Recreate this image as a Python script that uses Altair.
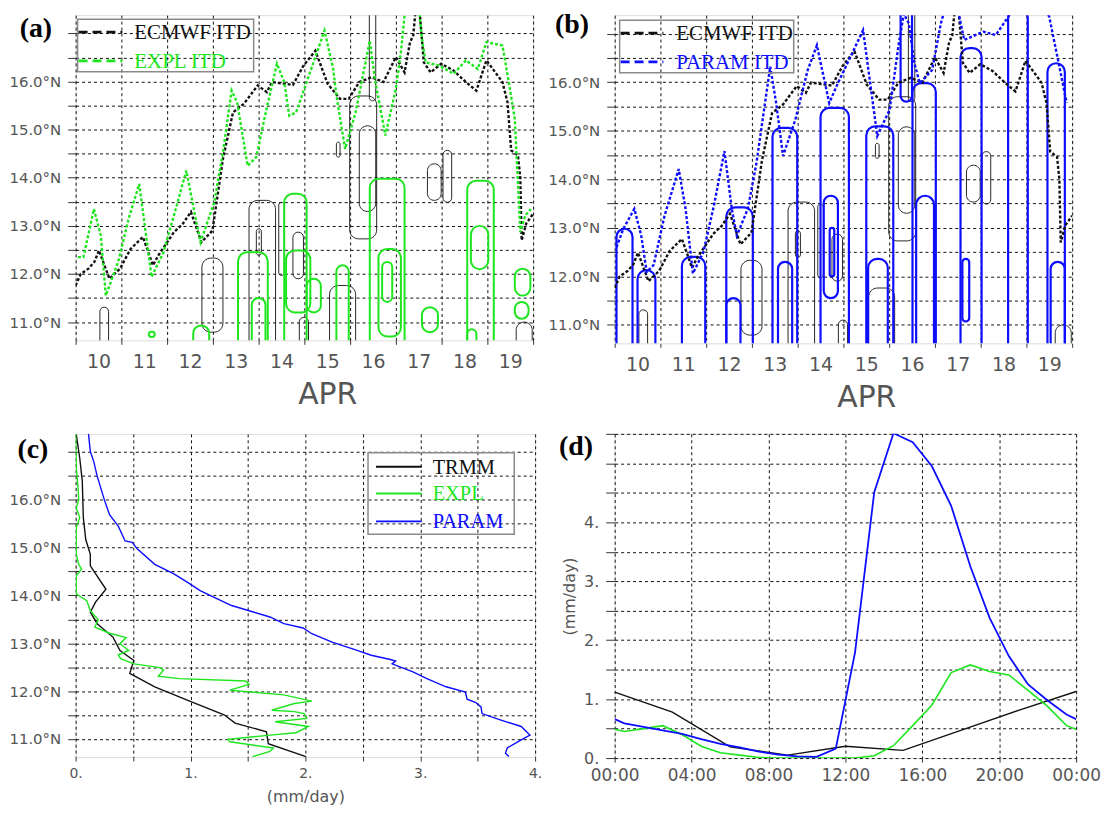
import altair as alt
import pandas as pd

FONT = "DejaVu Sans"
SERIF = "Liberation Serif"
TXT = "#555555"
FRAME = "#8a8a8a"
GRID = "#111111"
GREEN = "#1ee61e"
BLUE = "#0d0dff"
BLACK = "#111111"
LAT_DOMAIN = [10.62, 17.38]

# ---------------- panels (a)/(b): days since 10 APR 00Z, latitude ----------------
ecmwf_day = [0.00, 0.11, 0.28, 0.41, 0.51, 0.63, 0.74, 0.97, 1.20, 1.47, 1.69, 1.81, 2.15, 2.34,
             2.52, 2.75, 2.99, 3.22, 3.44, 3.68, 3.98, 4.18, 4.29, 4.75, 4.98, 5.24, 5.51, 5.78,
             5.97, 6.20, 6.47, 6.73, 7.00, 7.19, 7.31, 7.38, 7.42, 7.48, 7.53, 7.61, 7.76, 7.99,
             8.26, 8.53, 8.76, 8.98, 9.33, 9.44, 9.52, 9.67, 9.72, 9.75, 9.85, 10.0]
ecmwf_lat = [11.76, 12.00, 12.11, 12.25, 12.49, 12.18, 11.90, 12.11, 12.52, 12.77, 12.18, 12.39,
             12.87, 13.04, 13.29, 12.66, 12.90, 14.39, 15.36, 15.54, 15.92, 15.78, 15.99, 15.93,
             16.33, 16.64, 15.95, 15.64, 15.64, 15.99, 16.09, 15.99, 16.51, 16.19, 16.82, 16.96,
             17.37, 17.55, 17.34, 16.40, 16.19, 16.37, 16.23, 15.99, 15.81, 16.44, 15.99, 15.57,
             14.57, 14.46, 14.00, 12.70, 13.05, 13.25]

expl_itd_day = [0.05, 0.17, 0.40, 0.55, 0.66, 0.93, 1.16, 1.39, 1.54, 1.66, 1.92, 2.15, 2.42, 2.61,
                2.73, 3.03, 3.22, 3.41, 3.53, 3.76, 3.95, 4.14, 4.40, 4.56, 4.67, 4.82, 5.05, 5.44,
                5.63, 5.70, 5.89, 6.12, 6.43, 6.54, 6.77, 7.00, 7.11, 7.19, 7.27, 7.50, 7.56, 7.65,
                7.95, 8.26, 8.53, 8.79, 8.98, 9.33, 9.48, 9.60, 9.72, 9.83, 9.95]
expl_itd_lat = [12.35, 12.35, 13.35, 12.80, 11.55, 12.25, 13.15, 13.87, 12.80, 11.94, 12.45, 13.22,
                14.15, 13.22, 12.66, 13.49, 14.53, 15.81, 15.57, 14.25, 14.43, 15.29, 16.37, 15.99,
                15.29, 15.36, 15.99, 17.06, 16.26, 15.71, 14.60, 15.36, 16.85, 16.06, 14.88, 15.85,
                16.61, 17.37, 17.60, 17.60, 16.96, 16.40, 16.33, 16.16, 16.44, 16.26, 16.82, 16.75,
                15.92, 15.22, 12.87, 13.22, 13.35]

param_itd_day = [0.04, 0.19, 0.43, 0.58, 0.70, 0.85, 1.09, 1.40, 1.55, 1.71, 1.94, 2.17, 2.40, 2.56,
                 2.67, 2.91, 3.10, 3.40, 3.53, 3.68, 3.95, 4.22, 4.42, 4.69, 4.88, 5.19, 5.43, 5.74,
                 6.01, 6.20, 6.32, 6.43, 6.55, 6.67, 6.94, 7.13, 7.21, 7.30, 7.45, 7.52, 7.64, 8.06,
                 8.33, 8.60, 8.76, 9.38, 9.50, 9.69, 9.88]
param_itd_lat = [12.60, 12.98, 13.39, 12.84, 12.09, 12.23, 13.25, 14.21, 13.39, 12.06, 12.50, 13.46,
                 14.58, 13.39, 12.84, 13.39, 14.34, 16.32, 15.57, 14.48, 15.23, 16.25, 16.76, 15.57,
                 15.98, 16.59, 17.07, 14.89, 15.43, 16.73, 17.41, 17.21, 16.39, 15.98, 16.25, 17.21,
                 17.48, 17.60, 17.60, 17.41, 16.87, 17.04, 16.97, 17.34, 17.60, 17.60, 17.34, 16.46,
                 15.57]

# rain contour loops: start day, end day, south lat, north lat
trmm_d0 = [0.53, 2.76, 3.79, 3.95, 4.44, 4.75, 4.89, 5.55, 5.99, 6.20, 6.42, 7.69, 8.03, 9.63, 5.70]
trmm_d1 = [0.72, 3.22, 4.37, 4.06, 4.56, 4.98, 5.09, 6.12, 6.58, 6.56, 6.56, 7.99, 8.22, 9.98, 5.78]
trmm_s = [10.40, 10.79, 10.40, 12.39, 11.97, 11.90, 10.40, 10.40, 12.73, 13.30, 15.60, 13.53, 13.49, 10.40, 14.43]
trmm_n = [11.31, 12.33, 13.53, 12.94, 13.49, 12.87, 11.10, 11.76, 15.70, 15.08, 17.50, 14.29, 14.57, 11.00, 14.74]

expl_d0 = [3.55, 3.85, 4.56, 4.60, 5.05, 5.70, 6.43, 6.62, 6.70, 7.57, 8.56, 8.64, 9.60, 9.60, 1.60, 2.57, 8.56]
expl_d1 = [4.20, 4.15, 5.05, 5.13, 5.36, 5.97, 7.19, 7.11, 6.92, 7.92, 9.14, 9.02, 9.94, 9.90, 1.73, 2.92, 8.76]
expl_s = [10.40, 10.40, 10.40, 11.20, 11.20, 10.40, 10.40, 10.70, 11.42, 10.79, 10.40, 12.10, 11.55, 11.07, 10.69, 10.40, 10.40]
expl_n = [12.45, 11.50, 13.67, 12.49, 11.90, 12.18, 13.98, 12.52, 12.25, 11.31, 13.94, 13.00, 12.11, 11.42, 10.80, 10.93, 10.85]

param_d0 = [0.04, 0.50, 1.47, 2.44, 2.44, 3.45, 3.57, 4.50, 4.57, 4.70, 5.50, 5.54, 6.51, 6.59, 7.56, 7.60, 8.60, 9.46, 9.53, 6.25]
param_d1 = [0.39, 0.89, 1.98, 3.02, 2.75, 3.99, 3.88, 5.12, 4.88, 4.80, 6.09, 5.97, 7.02, 6.98, 8.02, 7.75, 9.03, 9.84, 9.84, 6.50]
param_s = [10.40, 10.40, 10.40, 10.40, 10.40, 10.40, 10.40, 10.40, 11.55, 12.00, 10.40, 10.40, 10.40, 10.40, 10.40, 11.07, 10.40, 10.40, 10.40, 15.60]
param_n = [12.98, 12.13, 12.40, 13.42, 11.55, 15.06, 12.30, 15.47, 13.66, 13.00, 15.09, 12.36, 15.98, 13.66, 16.70, 12.36, 17.50, 16.39, 12.30, 17.50]

# ---------------- panel (c): zonal-mean rain (mm/day) vs latitude ----------------
trmm_c_val = [0.006, 0.036, 0.058, 0.067, 0.088, 0.128, 0.128, 0.264, 0.173, 0.128, 0.188, 0.325,
              0.386, 0.507, 0.471, 0.689, 0.993, 1.297, 1.388, 1.661, 1.677, 2.005]
trmm_c_lat = [17.36, 16.87, 16.39, 15.63, 15.17, 14.86, 14.62, 14.13, 13.86, 13.65, 13.41, 13.13,
              12.85, 12.64, 12.37, 12.09, 11.79, 11.50, 11.33, 11.15, 10.90, 10.63]

expl_c_val = [0.000, 0.006, 0.021, 0.027, 0.006, 0.036, 0.006, 0.006, 0.027, 0.052, 0.006, 0.006,
              0.097, 0.128, 0.197, 0.167, 0.295, 0.440, 0.386, 0.462, 0.371, 0.392, 0.507, 0.735,
              0.765, 0.720, 0.902, 1.479, 1.510, 1.342, 1.813, 2.056, 1.904, 1.707, 1.904, 1.989,
              2.011, 1.737, 2.026, 1.920, 1.692, 1.327, 1.342, 1.722, 1.692, 1.540]
expl_c_lat = [17.38, 16.67, 16.25, 16.00, 15.83, 15.63, 15.42, 14.86, 14.65, 14.55, 14.41, 14.03,
              13.89, 13.68, 13.49, 13.34, 13.21, 13.12, 12.99, 12.85, 12.76, 12.68, 12.57, 12.49,
              12.44, 12.31, 12.26, 12.21, 12.14, 12.02, 11.92, 11.79, 11.74, 11.60, 11.57, 11.53,
              11.43, 11.36, 11.26, 11.13, 11.08, 10.99, 10.94, 10.81, 10.74, 10.63]

param_c_val = [0.112, 0.128, 0.158, 0.188, 0.249, 0.295, 0.371, 0.431, 0.492, 0.538, 0.689, 0.856,
               0.978, 1.084, 1.206, 1.358, 1.510, 1.692, 1.813, 1.980, 2.056, 2.238, 2.405, 2.451,
               2.573, 2.740, 2.785, 2.755, 2.937, 3.058, 3.225, 3.393, 3.408, 3.484, 3.529, 3.538,
               3.696, 3.879, 3.955, 3.879, 3.757, 3.742, 3.772]
param_c_lat = [17.38, 17.01, 16.80, 16.49, 16.01, 15.69, 15.45, 15.14, 15.11, 14.97, 14.65, 14.45,
               14.27, 14.10, 13.96, 13.79, 13.68, 13.55, 13.41, 13.32, 13.20, 13.02, 12.89, 12.85,
               12.75, 12.66, 12.63, 12.57, 12.40, 12.26, 12.09, 11.98, 11.83, 11.76, 11.67, 11.53,
               11.40, 11.26, 11.08, 10.98, 10.81, 10.70, 10.63]

# ---------------- panel (d): diurnal cycle (mm/day) ----------------
trmm_d_hour = [0, 3, 6, 9, 12, 15, 18, 21, 24]
trmm_d_val = [1.12, 0.78, 0.19, 0.05, 0.20, 0.13, 0.47, 0.81, 1.13]
model_d_hour = [0, 0.5, 1.5, 2.5, 3.5, 4.5, 5.5, 6.5, 7.5, 8.5, 9.5, 10.5, 11.5, 12.5, 13.5, 14.5,
                15.5, 16.5, 17.5, 18.5, 19.5, 20.5, 21.5, 22.5, 23.5, 24]
param_d_val = [0.66, 0.59, 0.53, 0.47, 0.41, 0.32, 0.24, 0.18, 0.11, 0.06, 0.03, 0.02, 0.16, 1.79,
               4.51, 5.51, 5.36, 4.95, 4.28, 3.25, 2.38, 1.73, 1.25, 0.98, 0.74, 0.66]
expl_d_val = [0.49, 0.45, 0.50, 0.55, 0.40, 0.20, 0.09, 0.05, 0.01, 0.0, 0.0, 0.0, 0.0, 0.0,
              0.04, 0.21, 0.55, 0.90, 1.45, 1.58, 1.47, 1.41, 1.15, 0.88, 0.55, 0.49]

itd_legend_a = ["ECMWF ITD", "EXPL ITD"]
itd_legend_b = ["ECMWF ITD", "PARAM ITD"]
rain_legend = ["TRMM", "EXPL", "PARAM"]


# ---------------- helpers ----------------
def label_style(size):
    return dict(labelFont=FONT, labelFontSize=size, labelColor=TXT, labelOverlap=False,
                labelFlush=False, labelBound=False)


GRID_STYLE = dict(gridDash=[3, 3], gridColor=GRID, gridWidth=1, domain=False, tickColor="#333")


def lat_axis():
    return alt.Axis(values=[11 + 0.5 * i for i in range(13)],
                    labelExpr="datum.value % 1 == 0 && datum.value < 16.5 ? format(datum.value, '.1f') + '°N' : ''",
                    grid=True, tickSize=8, labelPadding=7, title=None,
                    **GRID_STYLE, **label_style(15))


def day_axis():
    on_day = {"condition": {"test": "datum.value % 1 == 0", "value": 1}, "value": 0}
    return alt.Axis(values=[0.5 * i for i in range(21)],
                    labelExpr="datum.value % 1 == 0.5 ? toString(datum.value + 9.5) : ''",
                    grid=True, gridOpacity=on_day, tickOpacity=on_day, tickSize=4, labelPadding=8,
                    title="APR", titleFont=FONT, titleFontSize=30, titleFontWeight="normal",
                    titleColor=TXT, titleX=253, titleY=63, titleBaseline="alphabetic",
                    **GRID_STYLE, **label_style(19))


def day_x(field):
    return alt.X(field, type="quantitative", scale=alt.Scale(domain=[0, 10], nice=False, zero=False),
                 axis=day_axis())


def lat_y(field):
    return alt.Y(field, type="quantitative",
                 scale=alt.Scale(domain=LAT_DOMAIN, nice=False, zero=False), axis=lat_axis())


def loops(d0, d1, s, n, color, width):
    df = pd.DataFrame({"d0": d0, "d1": d1, "s": s, "n": n})
    return alt.Chart(df).mark_rect(filled=False, stroke=color, strokeWidth=width,
                                   cornerRadius=9, clip=True).encode(
        x=day_x("d0"), x2="d1", y=lat_y("s"), y2="n")


def itd_line(days, lats, color):
    df = pd.DataFrame({"day": days, "lat": lats, "i": list(range(len(days)))})
    return alt.Chart(df).mark_line(color=color, strokeDash=[3, 2], strokeWidth=2.4, clip=True).encode(
        x=day_x("day"), y=lat_y("lat"), order="i:Q")


def one_row():
    return pd.DataFrame({"k": [0]})


def legend(names, colors, dashes, box, line_x, text_x, ys, size):
    layers = [alt.Chart(one_row()).mark_rect(filled=False, stroke=FRAME, strokeWidth=1.5).encode(
        x=alt.value(box[0]), x2=alt.value(box[1]), y=alt.value(box[2]), y2=alt.value(box[3]))]
    for name, col, dash, yy in zip(names, colors, dashes, ys):
        kw = dict(color=col, strokeWidth=2.8 if dash else 2)
        if dash:
            kw["strokeDash"] = dash
        layers.append(alt.Chart(one_row()).mark_rule(**kw).encode(
            x=alt.value(line_x[0]), x2=alt.value(line_x[1]), y=alt.value(yy)))
        layers.append(alt.Chart(pd.DataFrame({"t": [name]})).mark_text(
            font=SERIF, fontSize=size, color=col, align="left", baseline="middle").encode(
            text="t:N", x=alt.value(text_x), y=alt.value(yy + 1)))
    return layers


def panel_label(txt, x, y):
    return alt.Chart(pd.DataFrame({"t": [txt]})).mark_text(
        font=SERIF, fontSize=28, fontWeight="bold", color="black", align="center",
        baseline="middle").encode(text="t:N", x=alt.value(x), y=alt.value(y))


# ---------------- panel (a) ----------------
pa = alt.layer(
    loops(trmm_d0, trmm_d1, trmm_s, trmm_n, BLACK, 0.9),
    loops(expl_d0, expl_d1, expl_s, expl_n, GREEN, 2),
    itd_line(ecmwf_day, ecmwf_lat, BLACK),
    itd_line(expl_itd_day, expl_itd_lat, GREEN),
    *legend(itd_legend_a, [BLACK, GREEN], [[9, 5], [9, 5]], (2, 179, 4, 57), (3, 47), 59,
            [17, 46], 21),
    panel_label("(a)", -40, 14),
).properties(width=460, height=327)

# ---------------- panel (b) ----------------
pb = alt.layer(
    loops(trmm_d0, trmm_d1, trmm_s, trmm_n, BLACK, 0.9),
    loops(param_d0, param_d1, param_s, param_n, BLUE, 2.2),
    itd_line(ecmwf_day, ecmwf_lat, BLACK),
    itd_line(param_itd_day, param_itd_lat, BLUE),
    *legend(itd_legend_b, [BLACK, BLUE], [[9, 5], [9, 5]], (5, 180, 5, 58), (6, 49), 62,
            [18, 47], 21),
    panel_label("(b)", -43, 10),
).properties(width=460, height=330)


# ---------------- panel (c) ----------------
def rain_x(field):
    return alt.X(field, type="quantitative", scale=alt.Scale(domain=[0, 4], nice=False),
                 axis=alt.Axis(values=[0.5 * i for i in range(9)],
                               labelExpr="datum.value % 1 == 0 ? datum.value + '.' : ''",
                               grid=True, tickSize=4, labelPadding=6, title="(mm/day)",
                               titleFont=FONT, titleFontSize=16, titleFontWeight="normal",
                               titleColor=TXT, titlePadding=8,
                               **GRID_STYLE, **label_style(14)))


def rain_line(vals, lats, color):
    df = pd.DataFrame({"v": vals, "lat": lats, "i": list(range(len(vals)))})
    return alt.Chart(df).mark_line(color=color, strokeWidth=1.4, clip=True).encode(
        x=rain_x("v"), y=lat_y("lat"), order="i:Q")


pc = alt.layer(
    rain_line(trmm_c_val, trmm_c_lat, BLACK),
    rain_line(expl_c_val, expl_c_lat, GREEN),
    rain_line(param_c_val, param_c_lat, BLUE),
    *legend(rain_legend, [BLACK, GREEN, BLUE], [None, None, None], (294, 441, 19, 101),
            (302, 348), 359, [33, 60, 88], 20.5),
    panel_label("(c)", -43, 16),
).properties(width=462, height=325)


# ---------------- panel (d) ----------------
def hour_x(field):
    return alt.X(field, type="quantitative", scale=alt.Scale(domain=[0, 24], nice=False),
                 axis=alt.Axis(values=[0, 4, 8, 12, 16, 20, 24],
                               labelExpr="datum.value == 24 ? '00:00' : (datum.value < 10 ? '0' : '') + datum.value + ':00'",
                               grid=True, tickSize=4, labelPadding=6, title=None,
                               **GRID_STYLE, **label_style(17)))


def mm_y(field):
    return alt.Y(field, type="quantitative", scale=alt.Scale(domain=[0, 5.5], nice=False),
                 axis=alt.Axis(values=[0.5 * i for i in range(12)],
                               labelExpr="datum.value % 1 == 0 && datum.value < 5 ? datum.value + '.' : ''",
                               grid=True, tickSize=9, labelPadding=7, title="(mm/day)",
                               titleFont=FONT, titleFontSize=16, titleFontWeight="normal",
                               titleColor=TXT, titlePadding=6,
                               **GRID_STYLE, **label_style(16)))


def diurnal(hours, vals, color, width):
    df = pd.DataFrame({"h": hours, "v": vals})
    return alt.Chart(df).mark_line(color=color, strokeWidth=width, clip=True).encode(
        x=hour_x("h"), y=mm_y("v"))


pd_chart = alt.layer(
    diurnal(trmm_d_hour, trmm_d_val, BLACK, 1.4),
    diurnal(model_d_hour, expl_d_val, GREEN, 1.6),
    diurnal(model_d_hour, param_d_val, BLUE, 1.8),
    panel_label("(d)", -39, 13),
).properties(width=464, height=326)

chart = alt.concat(pa, pb, pc, pd_chart, columns=2, bounds="flush",
                   spacing={"row": 91, "column": 80}).properties(
    padding={"left": 0, "top": 0, "right": 0, "bottom": 0}
).configure_view(stroke=FRAME, strokeWidth=1.5).configure(font=FONT)

chart.save("out.html", embed_options={"renderer": "svg", "actions": False})
